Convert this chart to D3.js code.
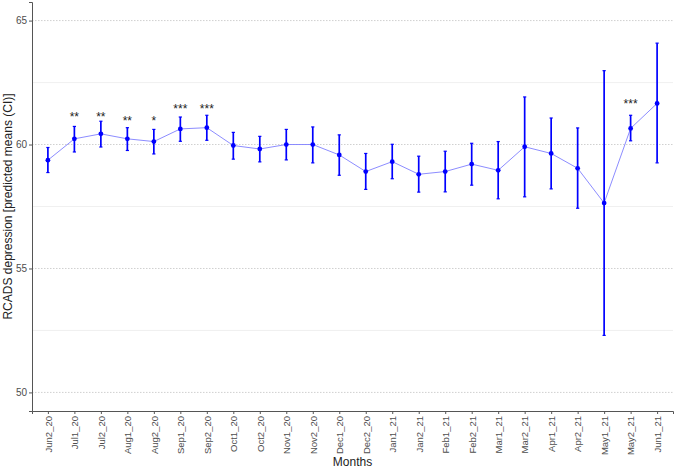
<!DOCTYPE html>
<html>
<head>
<meta charset="utf-8">
<script src="https://cdn.jsdelivr.net/npm/d3@7"></script>
<style>
  body { margin: 0; background: #fff; }
  text { font-family: "Liberation Sans", Arial, sans-serif; }
</style>
</head>
<body>
<div class="chart"></div>
<script>
// predicted means and CI per half-month
var months = ["Jun2_20", "Jul1_20", "Jul2_20", "Aug1_20", "Aug2_20", "Sep1_20", "Sep2_20",
  "Oct1_20", "Oct2_20", "Nov1_20", "Nov2_20", "Dec1_20", "Dec2_20", "Jan1_21", "Jan2_21",
  "Feb1_21", "Feb2_21", "Mar1_21", "Mar2_21", "Apr1_21", "Apr2_21", "May1_21", "May2_21", "Jun1_21"];
var means = [59.37, 60.23, 60.43, 60.23, 60.12, 60.63, 60.68, 59.96, 59.82, 60.00, 60.00, 59.58,
  58.91, 59.31, 58.80, 58.91, 59.21, 58.96, 59.91, 59.64, 59.04, 57.64, 60.65, 61.66];
var ciLow = [58.87, 59.70, 59.90, 59.76, 59.62, 60.13, 60.17, 59.41, 59.30, 59.38, 59.26, 58.76,
  58.19, 58.62, 58.08, 58.09, 58.36, 57.81, 57.89, 58.21, 57.43, 52.30, 60.15, 59.26];
var ciHigh = [59.88, 60.73, 60.94, 60.68, 60.61, 61.11, 61.18, 60.49, 60.33, 60.61, 60.71, 60.39,
  59.64, 60.01, 59.53, 59.73, 60.05, 60.12, 61.92, 61.07, 60.67, 62.98, 61.18, 64.09];
// significance stars
var starMonths = ["Jul1_20", "Jul2_20", "Aug1_20", "Aug2_20", "Sep1_20", "Sep2_20", "May2_21"];
var starLabels = ["**", "**", "**", "*", "***", "***", "***"];
var starY = [61.33, 61.33, 61.15, 61.15, 61.65, 61.65, 61.85];
var yTicks = [50, 55, 60, 65];
var yMinor = [52.5, 57.5, 62.5];

var W = 676, H = 469;
var margin = {top: 2, right: 3, bottom: 58, left: 32};
var width = W - margin.left - margin.right,
    height = H - margin.top - margin.bottom;

var svg = d3.select(".chart").append("svg")
    .attr("width", W)
    .attr("height", H);
var g = svg.append("g")
    .attr("transform", "translate(" + margin.left + "," + margin.top + ")");

var x = d3.scalePoint()
    .domain(months)
    .range([0, width])
    .padding(0.6);

var y = d3.scaleLinear()
    .domain([49.25, 65.75])
    .range([height, 0]);

// grid
g.selectAll(".minor")
    .data(yMinor)
  .enter().append("line")
    .attr("x1", 0).attr("x2", width)
    .attr("y1", d => y(d)).attr("y2", d => y(d))
    .style("stroke", "#ececec")
    .style("stroke-width", 0.8);

g.selectAll(".major")
    .data(yTicks)
  .enter().append("line")
    .attr("x1", 0).attr("x2", width)
    .attr("y1", d => y(d)).attr("y2", d => y(d))
    .style("stroke", "#d0d0d0")
    .style("stroke-width", 1)
    .style("stroke-dasharray", "1.5,1.5");

// axes
var yAxis = d3.axisLeft(y).tickValues(yTicks).tickSize(3).tickPadding(2);
var xAxis = d3.axisBottom(x).tickSize(3).tickPadding(2);

var gy = g.append("g").call(yAxis);
gy.select(".domain").attr("stroke", "#555");
gy.selectAll(".tick line").attr("stroke", "#555");
gy.selectAll(".tick text")
    .attr("fill", "#4d4d4d")
    .style("font-size", "10px");

var gx = g.append("g")
    .attr("transform", "translate(0," + height + ")")
    .call(xAxis);
gx.select(".domain").attr("stroke", "#555");
gx.selectAll(".tick line").attr("stroke", "#555");
gx.selectAll(".tick text")
    .attr("fill", "#4d4d4d")
    .style("font-size", "9.5px")
    .attr("transform", "rotate(-90)")
    .attr("text-anchor", "end")
    .attr("x", -5)
    .attr("y", 0)
    .attr("dy", "0.35em")
    .attr("dx", 0);

// line through means
var line = d3.line()
    .x((d, i) => x(months[i]))
    .y(d => y(d));

g.append("path")
    .datum(means)
    .attr("fill", "none")
    .attr("stroke", "#7f7fff")
    .attr("stroke-width", 0.9)
    .attr("d", line);

// error bars
var capW = 1.6;
var bars = g.selectAll(".err")
    .data(months)
  .enter().append("g");

bars.append("line")
    .attr("x1", d => x(d)).attr("x2", d => x(d))
    .attr("y1", (d, i) => y(ciLow[i])).attr("y2", (d, i) => y(ciHigh[i]))
    .style("stroke", "#0000ff").style("stroke-width", 1.7);
bars.append("line")
    .attr("x1", d => x(d) - capW).attr("x2", d => x(d) + capW)
    .attr("y1", (d, i) => y(ciLow[i])).attr("y2", (d, i) => y(ciLow[i]))
    .style("stroke", "#0000ff").style("stroke-width", 1.2);
bars.append("line")
    .attr("x1", d => x(d) - capW).attr("x2", d => x(d) + capW)
    .attr("y1", (d, i) => y(ciHigh[i])).attr("y2", (d, i) => y(ciHigh[i]))
    .style("stroke", "#0000ff").style("stroke-width", 1.2);

g.selectAll(".point")
    .data(means)
  .enter().append("circle")
    .attr("cx", (d, i) => x(months[i]))
    .attr("cy", d => y(d))
    .attr("r", 2.4)
    .attr("fill", "#0000ff");

// stars
g.selectAll(".star")
    .data(starLabels)
  .enter().append("text")
    .attr("x", (d, i) => x(starMonths[i]))
    .attr("y", (d, i) => y(starY[i]))
    .attr("dy", "0.75em")
    .attr("text-anchor", "middle")
    .style("font-size", "12px")
    .attr("fill", "#222")
    .text(d => d);

// axis titles
svg.append("text")
    .attr("x", margin.left + width / 2)
    .attr("y", H - 3.5)
    .attr("text-anchor", "middle")
    .style("font-size", "12px")
    .attr("fill", "#222")
    .text("Months");

svg.append("text")
    .attr("transform", "translate(12," + (margin.top + height / 2) + ") rotate(-90)")
    .attr("text-anchor", "middle")
    .style("font-size", "12px")
    .attr("fill", "#222")
    .text("RCADS depression [predicted means (CI)]");
</script>
</body>
</html>
